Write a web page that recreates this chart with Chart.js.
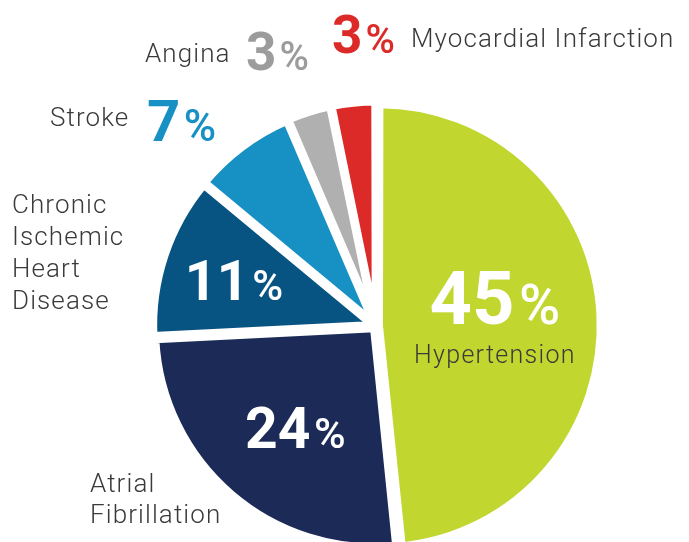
<!DOCTYPE html>
<html>
<head>
<meta charset="utf-8">
<script src="https://cdn.jsdelivr.net/npm/chart.js@4.4.1/dist/chart.umd.min.js"></script>
<style>
html, body { margin: 0; padding: 0; background: #fff; overflow: hidden; }
canvas { display: block; }
</style>
</head>
<body>
<canvas id="pie" width="689" height="600"></canvas>
<script>
// data
const categories = ['Hypertension', ['Atrial', 'Fibrillation'], ['Chronic', 'Ischemic', 'Heart', 'Disease'], 'Stroke', 'Angina', 'Myocardial Infarction'];
const shares = [45, 24, 11, 7, 3, 3];

// colours
const sliceColors = ['#c1d62f', '#1b2a56', '#075483', '#1790c4', '#b0b0b0', '#dc2a28'];
const pctColors = ['#ffffff', '#ffffff', '#ffffff', '#1790c4', '#9c9c9c', '#dc2a28'];
const textColor = '#3a3a3a';
const FONT = 'Roboto, "Noto Sans", sans-serif';

// label placement (px)
const inside = {
  0: { f: 0.53, dx: 0, dy: -22, size: 74, nameDy: 65 },
  1: { f: 0.58, dx: 4, dy: 3, size: 57 },
  2: { f: 0.67, dx: 0, dy: 1, size: 56 }
};
const outside = {
  3: { nameX: 50, nameY: 126, pctX: 147, pctY: 141, size: 58 },
  4: { nameX: 145, nameY: 62, pctX: 246, pctY: 70, size: 53 },
  5: { nameX: 411, nameY: 47, pctX: 332, pctY: 53, size: 53 }
};
const multiLine = {
  1: { x: 90, y: 492, step: 31 },
  2: { x: 12, y: 213, step: 32 }
};

function drawPct(ctx, v, x, y, size, color, centered) {
  const small = Math.round(size * 0.75);
  const gap = size * 0.06;
  const txt = String(v);
  ctx.letterSpacing = '0px';
  ctx.font = `bold ${size}px ${FONT}`;
  const w1 = ctx.measureText(txt).width;
  ctx.font = `500 ${small}px ${FONT}`;
  const w2 = ctx.measureText('%').width;
  let left = x, base = y;
  if (centered) {
    left = x - (w1 + gap + w2) / 2;
    base = y + size * 0.355;
  }
  ctx.fillStyle = color;
  ctx.textAlign = 'left';
  ctx.textBaseline = 'alphabetic';
  ctx.font = `bold ${size}px ${FONT}`;
  ctx.fillText(txt, left, base);
  ctx.font = `500 ${small}px ${FONT}`;
  ctx.fillText('%', left + w1 + gap, base);
}

function nameFont(ctx, size, spacing) {
  ctx.font = `300 ${size}px ${FONT}`;
  ctx.letterSpacing = spacing + 'px';
  ctx.fillStyle = textColor;
  ctx.textBaseline = 'alphabetic';
}

const sliceLabels = {
  id: 'sliceLabels',
  afterDraw(chart) {
    const ctx = chart.ctx;
    const arcs = chart.getDatasetMeta(0).data;
    const values = chart.data.datasets[0].data;
    const names = chart.data.labels;
    ctx.save();
    arcs.forEach((arc, i) => {
      const p = arc.getProps(['x', 'y', 'startAngle', 'endAngle', 'outerRadius'], true);
      const mid = (p.startAngle + p.endAngle) / 2;
      const shift = (arc.options.offset || 0) / 4;
      if (inside[i]) {
        const s = inside[i];
        const r = s.f * p.outerRadius + shift;
        const ax = p.x + Math.cos(mid) * r + s.dx;
        const ay = p.y + Math.sin(mid) * r + s.dy;
        drawPct(ctx, values[i], ax, ay, s.size, pctColors[i], true);
        if (s.nameDy) {
          nameFont(ctx, 25, 1.3);
          ctx.textAlign = 'center';
          ctx.fillText(names[i], ax, ay + s.nameDy);
        }
      }
      if (outside[i]) {
        const o = outside[i];
        drawPct(ctx, values[i], o.pctX, o.pctY, o.size, pctColors[i], false);
        nameFont(ctx, 26, 1.1);
        ctx.textAlign = 'left';
        ctx.fillText(names[i], o.nameX, o.nameY);
      }
      if (multiLine[i]) {
        const m = multiLine[i];
        nameFont(ctx, 26, 1.1);
        ctx.textAlign = 'left';
        names[i].forEach((line, k) => ctx.fillText(line, m.x, m.y + k * m.step));
      }
    });
    ctx.restore();
  }
};

new Chart(document.getElementById('pie'), {
  type: 'pie',
  plugins: [sliceLabels],
  data: {
    labels: categories,
    datasets: [{
      data: shares,
      backgroundColor: sliceColors,
      borderColor: '#ffffff',
      borderWidth: 8,
      offset: 12,
      radius: 219
    }]
  },
  options: {
    responsive: false,
    animation: false,
    layout: {
      padding: { left: 63, right: 0, top: 52, bottom: 0 }
    },
    plugins: {
      legend: { display: false },
      tooltip: { enabled: false }
    }
  }
});
</script>
</body>
</html>
